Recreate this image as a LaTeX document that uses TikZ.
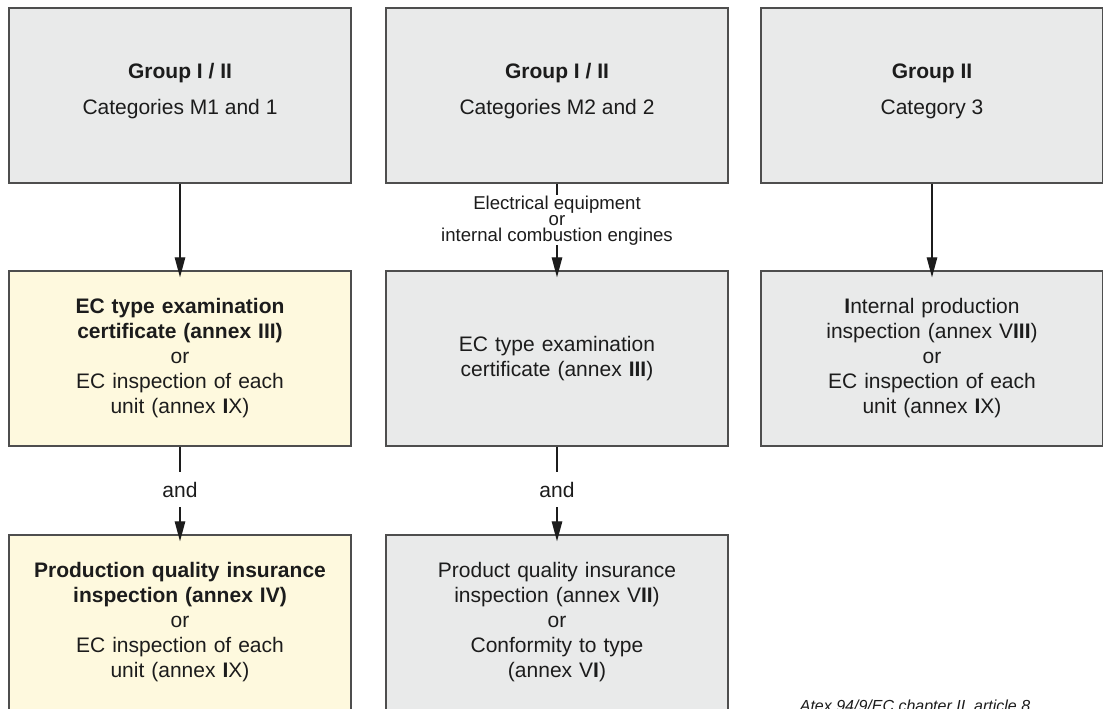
\documentclass[tikz,border=0pt]{standalone}
\usepackage{fontspec}
\setmainfont{Liberation Sans}
\usetikzlibrary{arrows.meta}
\definecolor{boxgray}{RGB}{233,234,234}
\definecolor{boxyellow}{RGB}{254,249,222}
\definecolor{edgegray}{RGB}{78,78,78}
\definecolor{inkcol}{RGB}{28,28,28}
\newcommand{\hvI}{\textbf{I}}
\tikzset{
  box/.style={draw=edgegray, line width=1.4pt, minimum width=342pt, minimum height=175pt,
    inner sep=0pt, text width=330pt, align=center, text=inkcol,
    font=\fontsize{21}{25}\selectfont},
  graybox/.style={box, fill=boxgray},
  yellowbox/.style={box, fill=boxyellow},
  titletxt/.style={anchor=base, text=inkcol, inner sep=0pt, font=\fontsize{21}{25}\selectfont\bfseries},
  subtxt/.style={anchor=base, text=inkcol, inner sep=0pt, font=\fontsize{21}{25}\selectfont},
  andtxt/.style={text=inkcol, inner xsep=0pt, inner ysep=10pt, font=\fontsize{21}{25}\selectfont},
  smalllab/.style={text=inkcol, inner sep=0pt, align=center, font=\fontsize{18.6}{16}\selectfont},
  conn/.style={draw=inkcol, line width=1.2pt},
  arr/.style={conn, -{Triangle[length=20pt,width=10.5pt]}, shorten >=-7pt}
}
\begin{document}
\begin{tikzpicture}[x=1pt,y=-1pt]
\useasboundingbox (0,0) rectangle (1103,709);
\clip (0,0) rectangle (1103,709);
\fill[white] (0,0) rectangle (1103,709);

% row 1
\node[graybox] (b1) at (180,95.5) {};
\node[graybox] (b2) at (557,95.5) {};
\node[graybox] (b3) at (932,95.5) {};
\node[titletxt] (t1) at (180,78.3) {Group I / II};
\node[subtxt] (s1) at (180,114.3) {Categories M1 and 1};
\node[titletxt] (t2) at (557,78.3) {Group I / II};
\node[subtxt] (s2) at (557,114.3) {Categories M2 and 2};
\node[titletxt] (t3) at (932,78.3) {Group II};
\node[subtxt] (s3) at (932,114.3) {Category 3};

% row 2
\node[yellowbox] (c1) at (180,358.5) {\textbf{EC type examination}\\ \textbf{certificate (annex III)}\\ or\\ EC inspection of each\\ unit (annex \hvI X)};
\node[graybox] (c2) at (557,358.5) {EC type examination\\ certificate (annex \hvI\hvI\hvI)};
\node[graybox] (c3) at (932,358.5) {\hvI nternal production\\ inspection (annex V\hvI\hvI\hvI)\\ or\\ EC inspection of each\\ unit (annex \hvI X)};

% row 3
\node[yellowbox] (d1) at (180,622.5) {\textbf{Production quality insurance}\\ \textbf{inspection (annex IV)}\\ or\\ EC inspection of each\\ unit (annex \hvI X)};
\node[graybox] (d2) at (557,622.5) {Product quality insurance\\ inspection (annex V\hvI\hvI)\\ or\\ Conformity to type\\ (annex V\hvI)};

% labels
\node[smalllab] (lab) at (557,220.3) {Electrical equipment\\ or\\ internal combustion engines};
\node[andtxt] (and1) at (180,489.5) {and};
\node[andtxt] (and2) at (557,489.5) {and};

% connectors
\draw[arr] (b1.south) -- (c1.north);
\draw[conn] (b2.south) -- (lab.north);
\draw[arr] (lab.south) -- (c2.north);
\draw[arr] (b3.south) -- (c3.north);
\draw[conn] (c1.south) -- (and1.north);
\draw[arr] (and1.south) -- (d1.north);
\draw[conn] (c2.south) -- (and2.north);
\draw[arr] (and2.south) -- (d2.north);

% source note
\node[anchor=base, text=inkcol, inner sep=0pt, font=\fontsize{16}{19}\selectfont\itshape] (src) at (915,711.5) {Atex 94/9/EC chapter II, article 8};
\end{tikzpicture}
\end{document}
